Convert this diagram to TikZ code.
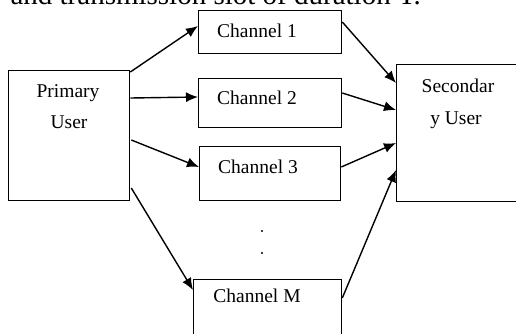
\documentclass[tikz,border=0pt]{standalone}
\usepackage{fontspec}
\setmainfont{Liberation Serif}
\usetikzlibrary{arrows.meta,calc}
\begin{document}
\begin{tikzpicture}[x=1pt,y=-1pt,
  box/.style={draw=black,line width=1.3pt,inner sep=0pt,anchor=north west},
  lbl/.style={font=\fontsize{19.5}{24}\selectfont,inner sep=0pt,anchor=base},
  conn/.style={line width=1.4pt,-{Latex[length=12pt,width=10pt]}},
  dotm/.style={circle,fill=black,inner sep=0pt,minimum size=2.2pt}]
\useasboundingbox (0,0) rectangle (516,333);
\clip (0,0) rectangle (516,333);
% caption fragment
\node[anchor=base east,font=\fontsize{29}{30}\selectfont,inner sep=0pt] (cap) at (421,4) {and transmission slot of duration T.};
% boxes
\node[box,minimum width=121pt,minimum height=130pt] (pu) at (8,70) {};
\node[box,minimum width=130pt,minimum height=137pt] (su) at (396,64) {};
\node[box,minimum width=143pt,minimum height=43pt] (c1) at (198,10) {};
\node[box,minimum width=143pt,minimum height=49pt] (c2) at (198,78) {};
\node[box,minimum width=141pt,minimum height=54pt] (c3) at (199,146) {};
\node[box,minimum width=148pt,minimum height=60pt] (cm) at (193,279) {};
% labels
\node[lbl] (put1) at (68,97) {Primary};
\node[lbl] (put2) at (69,128) {User};
\node[lbl] (sut1) at (458,92) {Secondar};
\node[lbl] (sut2) at (456,124) {y User};
\node[lbl] (c1t) at (257,37) {Channel 1};
\node[lbl] (c2t) at (257,104) {Channel 2};
\node[lbl] (c3t) at (258,173) {Channel 3};
\node[lbl] (cmt) at (257,302) {Channel M};
% dots
\node[dotm] (d1) at (262,231) {};
\node[dotm] (d2) at (262,253) {};
% connectors
\draw[conn] ($(pu.north east)+(0,2)$) -- ($(c1.north west)+(0,16)$);
\draw[conn] ($(pu.north east)+(0,28)$) -- ($(c2.north west)+(0,19)$);
\draw[conn] ($(pu.north east)+(1,70)$) -- ($(c3.north west)+(0,21)$);
\draw[conn] ($(pu.north east)+(1,118)$) -- ($(cm.north west)+(0,11)$);
\draw[conn] ($(c1.north east)+(0,12)$) -- ($(su.north west)+(0,19)$);
\draw[conn] ($(c2.north east)+(0,15)$) -- ($(su.north west)+(0,46)$);
\draw[conn] ($(c3.north east)+(0,21)$) -- ($(su.north west)+(0,79)$);
\draw[conn] ($(cm.north east)+(0,19)$) -- ($(su.north west)+(0,106)$);
\end{tikzpicture}
\end{document}
